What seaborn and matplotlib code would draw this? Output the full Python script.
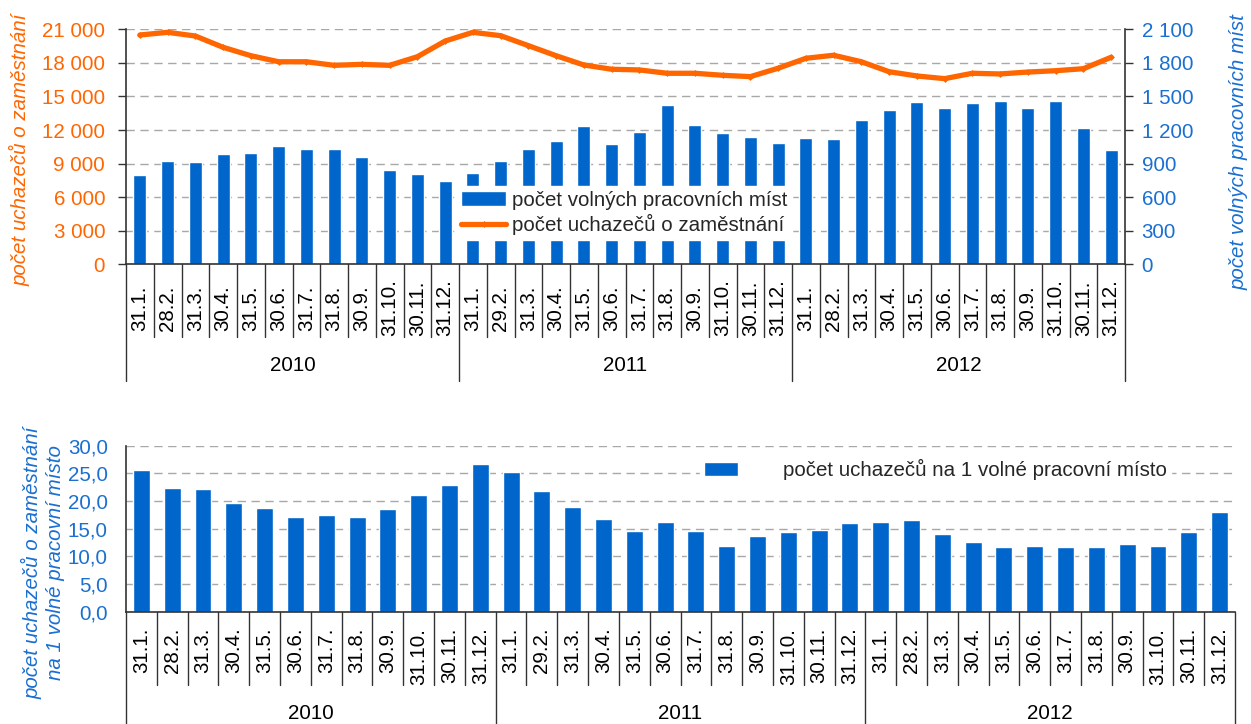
import numpy as np
import pandas as pd
import matplotlib
matplotlib.use("Agg")
import matplotlib.pyplot as plt
import matplotlib.transforms as mtransforms
from matplotlib.ticker import FuncFormatter, MultipleLocator
import seaborn as sns

# ---------------- data ----------------
years = ["2010", "2011", "2012"]
dates_2010 = ["31.1.", "28.2.", "31.3.", "30.4.", "31.5.", "30.6.", "31.7.", "31.8.", "30.9.", "31.10.", "30.11.", "31.12."]
dates_2011 = ["31.1.", "29.2.", "31.3.", "30.4.", "31.5.", "30.6.", "31.7.", "31.8.", "30.9.", "31.10.", "30.11.", "31.12."]
dates_2012 = ["31.1.", "28.2.", "31.3.", "30.4.", "31.5.", "30.6.", "31.7.", "31.8.", "30.9.", "31.10.", "30.11.", "31.12."]

uchazeci = [20490, 20730, 20400, 19390, 18640, 18100, 18100, 17780, 17870, 17780, 18550, 19950,
            20730, 20430, 19540, 18640, 17810, 17430, 17370, 17070, 17070, 16890, 16770, 17520,
            18410, 18680, 18100, 17210, 16830, 16590, 17070, 17010, 17180, 17300, 17480, 18500]
volna_mista = [800, 920, 915, 985, 995, 1055, 1030, 1030, 960, 845, 805, 745,
               815, 920, 1030, 1100, 1235, 1075, 1180, 1425, 1245, 1175, 1135, 1085,
               1130, 1120, 1290, 1380, 1450, 1395, 1440, 1460, 1395, 1460, 1220, 1020]
na_misto = [25.6, 22.4, 22.2, 19.6, 18.7, 17.1, 17.5, 17.1, 18.6, 21.1, 22.9, 26.7,
            25.2, 21.8, 18.9, 16.8, 14.6, 16.2, 14.6, 11.9, 13.7, 14.4, 14.8, 16.0,
            16.2, 16.6, 14.0, 12.6, 11.7, 11.9, 11.7, 11.7, 12.2, 11.9, 14.4, 18.0]

lbl_bars = "počet volných pracovních míst"
lbl_line = "počet uchazečů o zaměstnání"
lbl_ratio = "počet uchazečů na 1 volné pracovní místo"

dates = dates_2010 + dates_2011 + dates_2012
year_of = [y for y in years for _ in range(12)]
keys = [f"{y}-{d}" for y, d in zip(year_of, dates)]
df = pd.DataFrame({"key": keys, "date": dates, "year": year_of,
                   "uchazeci": uchazeci, "mista": volna_mista, "ratio": na_misto,
                   "pos": np.arange(len(keys))})

# ---------------- style ----------------
sns.set_style("white")
plt.rcParams["font.family"] = ["Liberation Sans", "DejaVu Sans"]
ORANGE = "#FF6600"
BLUE = "#0066CC"
TXTBLUE = "#1A6FD1"
AXC = "#333333"
FS = 14.8

W, H = 1251, 724
fig = plt.figure(figsize=(W / 100, H / 100), dpi=100)


def px_axes(l, t, r, b):
    return fig.add_axes([l / W, 1 - b / H, (r - l) / W, (b - t) / H])


def thousands(v, _):
    return f"{int(round(v)):,}".replace(",", " ")


def comma1(v, _):
    return f"{v:.1f}".replace(".", ",")


def category_axis(ax, ax_h_px, sep_px, grp_px, year_px, lbl_va, lbl_pad):
    n = len(dates)
    ax.set_xlim(-0.5, n - 0.5)
    ax.set_xticks(np.arange(n))
    ax.set_xticklabels(dates, rotation=90, fontsize=FS, va=lbl_va, ha="center")
    ax.tick_params(axis="x", length=0, pad=lbl_pad, colors="black")
    trans = mtransforms.blended_transform_factory(ax.transData, ax.transAxes)
    for b in np.arange(-0.5, n):
        is_grp = (b + 0.5) % 12 == 0
        depth = grp_px if is_grp else sep_px
        ax.plot([b, b], [0, -depth / ax_h_px], transform=trans, color=AXC,
                lw=1.0, clip_on=False, zorder=5)
    for i, y in enumerate(years):
        ax.text(i * 12 + 5.5, -year_px / ax_h_px, y, transform=trans,
                ha="center", va="center", fontsize=FS, color="black")


grid_kw = dict(linestyle=(0, (6, 4)), color="#a8a8a8", lw=1.0)

# ================= top chart =================
ax_bar = px_axes(126, 29.3, 1125, 264.3)
sns.barplot(data=df, x="key", y="mista", order=keys, color=BLUE, saturation=1,
            width=0.46, errorbar=None, ax=ax_bar, label=lbl_bars)
if ax_bar.get_legend() is not None:
    ax_bar.get_legend().remove()
ax_line = ax_bar.twinx()
sns.lineplot(data=df, x="pos", y="uchazeci", ax=ax_line, color=ORANGE, lw=3.8,
             marker="D", markersize=3.5, markeredgewidth=0, label=lbl_line)

ax_bar.yaxis.tick_right()
ax_line.yaxis.tick_left()
ax_bar.set_ylim(0, 2100)
ax_line.set_ylim(0, 21000)
ax_bar.yaxis.set_major_locator(MultipleLocator(300))
ax_line.yaxis.set_major_locator(MultipleLocator(3000))
ax_bar.yaxis.set_major_formatter(FuncFormatter(thousands))
ax_line.yaxis.set_major_formatter(FuncFormatter(thousands))
ax_bar.tick_params(axis="y", labelsize=FS, colors=AXC, labelcolor=TXTBLUE,
                   length=6, width=1, pad=6, direction="out")
ax_line.tick_params(axis="y", labelsize=FS, colors=AXC, labelcolor=ORANGE,
                    length=6, width=1, pad=9, direction="out")
ax_bar.set_axisbelow(True)
ax_bar.yaxis.grid(True, **grid_kw)
ax_bar.xaxis.grid(False)
for s in ax_bar.spines.values():
    s.set_visible(False)
for name, s in ax_line.spines.items():
    s.set_visible(name != "top")
    s.set_color(AXC)
    s.set_linewidth(1.2)
ax_bar.set_xlabel("")
ax_bar.set_ylabel("")
ax_line.set_xlabel("")
ax_line.set_ylabel("")
category_axis(ax_bar, 235, 72.5, 117, 101, "center", 31.5)

hb, lb = ax_bar.get_legend_handles_labels()
hl, ll = ax_line.get_legend_handles_labels()
leg = ax_line.legend(hb + hl, lb + ll, loc="lower left",
                     bbox_to_anchor=((456 - 126) / 999, (264.3 - 240) / 235),
                     fontsize=FS, frameon=True, fancybox=False, framealpha=1,
                     facecolor="white", edgecolor="white", borderpad=0.25,
                     borderaxespad=0, handlelength=2.2, handletextpad=0.25,
                     labelspacing=0.2)
leg.set_zorder(10)

fig.text(20 / W, 1 - 150 / H, lbl_line, rotation=90, ha="center", va="center",
         color=ORANGE, fontsize=FS, style="italic")
fig.text(1239 / W, 1 - 152 / H, lbl_bars, rotation=90, ha="center", va="center",
         color=TXTBLUE, fontsize=FS, style="italic")

# ================= bottom chart =================
ax_bot = px_axes(126, 445.7, 1235, 611.7)
sns.barplot(data=df, x="key", y="ratio", order=keys, color=BLUE, saturation=1,
            width=0.55, errorbar=None, ax=ax_bot, label=lbl_ratio)
ax_bot.set_ylim(0, 30)
ax_bot.yaxis.set_major_locator(MultipleLocator(5))
ax_bot.yaxis.set_major_formatter(FuncFormatter(comma1))
ax_bot.tick_params(axis="y", labelsize=FS, colors=AXC, labelcolor=TXTBLUE,
                   length=6, width=1, pad=7, direction="out")
ax_bot.set_axisbelow(True)
ax_bot.yaxis.grid(True, **grid_kw)
ax_bot.xaxis.grid(False)
for name, s in ax_bot.spines.items():
    s.set_visible(name in ("left", "bottom"))
    s.set_color(AXC)
    s.set_linewidth(1.2)
ax_bot.set_xlabel("")
ax_bot.set_ylabel("")
category_axis(ax_bot, 166, 73.5, 113, 102, "top", 11.5)

leg2 = ax_bot.legend(loc="center left", bbox_to_anchor=((700 - 126) / 1109, 0.855),
                     fontsize=FS, frameon=True, fancybox=False, framealpha=1,
                     facecolor="white", edgecolor="white", borderpad=0.2,
                     borderaxespad=0, handlelength=1.65, handletextpad=2.2)

fig.text(43 / W, 1 - 563 / H,
         "počet uchazečů o zaměstnání\nna 1 volné pracovní místo",
         rotation=90, ha="center", va="center", multialignment="center",
         color=TXTBLUE, fontsize=FS, style="italic", linespacing=1.25)

fig.savefig("out.png", dpi=100)
